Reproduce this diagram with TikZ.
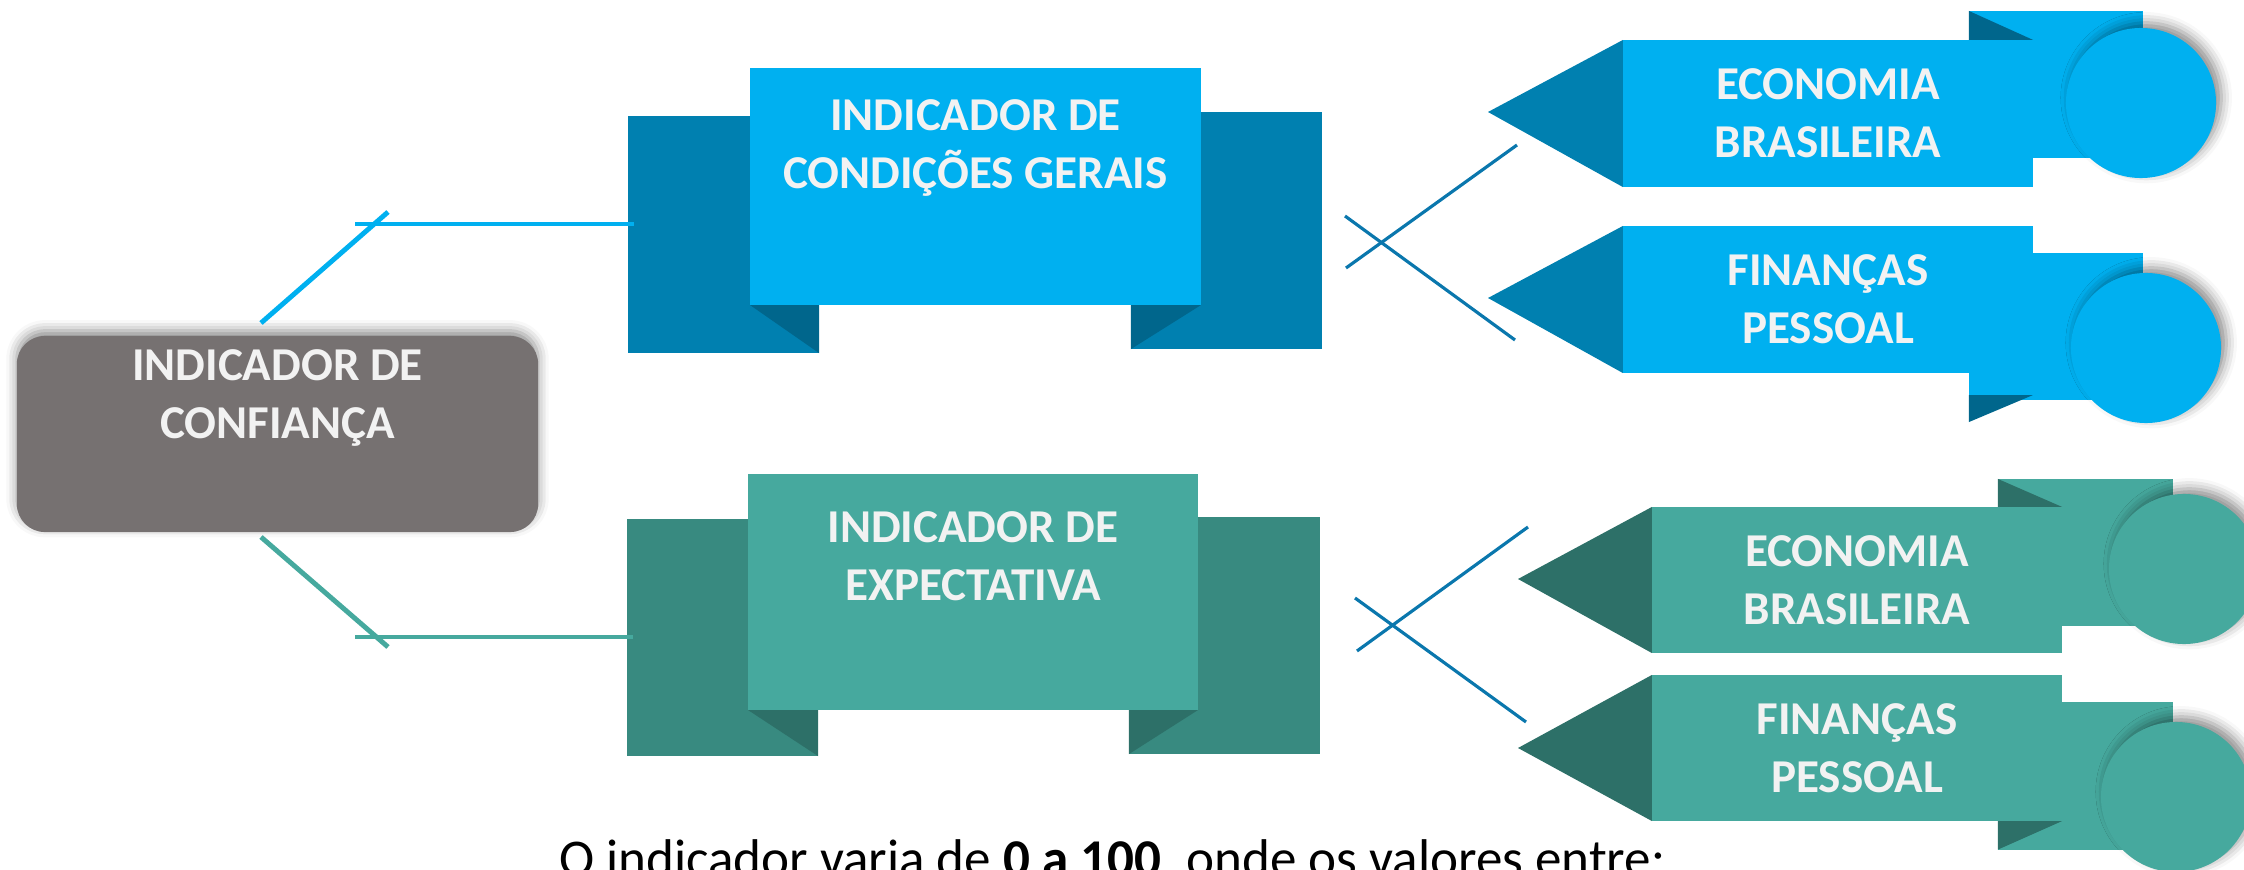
\documentclass[tikz,border=0pt]{standalone}
\usepackage{fontspec}
\setmainfont{Carlito}
\usetikzlibrary{calc,positioning,shadows.blur}

\definecolor{gry}{HTML}{767171}
\definecolor{bluA}{HTML}{00B0F0}
\definecolor{bluB}{HTML}{0080B0}
\definecolor{bluC}{HTML}{00668C}
\definecolor{tealA}{HTML}{46A99E}
\definecolor{tealB}{HTML}{388A80}
\definecolor{tealC}{HTML}{2D7068}
\definecolor{crossblu}{HTML}{0A77AD}
\definecolor{txt}{HTML}{F2F2F2}

\begin{document}
\begin{tikzpicture}[x=0.01cm, y=-0.01cm, every node/.style={inner sep=0pt, outer sep=0pt}]
    \tikzset{plate/.style={rectangle, fill=#1},
      lbl/.style={text=txt, align=center, font=\bfseries\fontsize{13.4}{16.6}\selectfont},
      disc/.style={circle, fill=#1, minimum size=1.5cm,
        blur shadow={shadow xshift=1.5pt, shadow yshift=1.5pt, shadow blur radius=3pt, shadow opacity=45}},
      lnblu/.style={bluA, line width=1.4pt},
      lnteal/.style={tealA, line width=1.4pt},
      xline/.style={crossblu, line width=0.9pt}}
    \useasboundingbox (0,0) rectangle (2244,870);

    \node[plate=gry, rounded corners=0.28cm, minimum width=5.21cm, minimum height=1.96cm,
      blur shadow={shadow xshift=0pt, shadow yshift=1.5pt, shadow blur radius=3pt, shadow opacity=45}] (conf) at (277.5,434) {};
    \node[lbl] at ($(conf.north)+(0,62)$) {INDICADOR DE\\CONFIANÇA};

    \node[plate=bluB, minimum width=1.91cm, minimum height=2.37cm] (cgL) at (723.5,234.5) {};
    \node[plate=bluB, minimum width=1.91cm, minimum height=2.37cm] (cgR) at (1226.5,230.5) {};
    \fill[bluC] (cgL.south east) -- ++(0,-48) -- ++(-69,0) -- cycle;
    \fill[bluC] (cgR.south west) -- ++(0,-44) -- ++(70,0) -- cycle;
    \node[plate=bluA, minimum width=4.51cm, minimum height=2.37cm] (cg) at (975.5,186.5) {};
    \node[lbl] at ($(cg.north)+(0,80)$) {INDICADOR DE\\CONDIÇÕES GERAIS};

    \node[plate=tealB, minimum width=1.91cm, minimum height=2.37cm] (expL) at (722.5,637.5) {};
    \node[plate=tealB, minimum width=1.91cm, minimum height=2.37cm] (expR) at (1224.5,635.5) {};
    \fill[tealC] (expL.south east) -- ++(0,-46) -- ++(-70,0) -- cycle;
    \fill[tealC] (expR.south west) -- ++(0,-44) -- ++(69,0) -- cycle;
    \node[plate=tealA, minimum width=4.50cm, minimum height=2.36cm] (exp) at (973,592) {};
    \node[lbl] at ($(exp.north)+(0,82)$) {INDICADOR DE\\EXPECTATIVA};

    \coordinate (u1) at (261,323);
    \coordinate (u2) at (388,212);
    \coordinate (u3) at (355,224);
    \coordinate (d1) at (261,537);
    \coordinate (d2) at (388,647);
    \coordinate (d3) at (355,637);
    \draw[lnblu] (u1) -- (u2);
    \draw[lnblu] (u3) -- ($(u3 -| cgL.west)+(6,0)$);
    \draw[lnteal] (d1) -- (d2);
    \draw[lnteal] (d3) -- ($(d3 -| expL.west)+(6,0)$);

    \node[plate=bluA, minimum width=1.74cm, minimum height=1.47cm] (ecoAb) at (2056,84.5) {};
    \node[plate=bluA, minimum width=1.74cm, minimum height=1.47cm] (finAb) at (2056,326.5) {};
    \node[disc=bluA] (ecoAc) at (2141,103) {};
    \node[disc=bluA] (finAc) at (2146,348) {};
    \node[plate=bluA, minimum width=4.10cm, minimum height=1.47cm, lbl] (ecoA) at (1828,113.5) {ECONOMIA\\BRASILEIRA};
    \node[plate=bluA, minimum width=4.10cm, minimum height=1.47cm, lbl] (finA) at (1828,299.5) {FINANÇAS\\PESSOAL};
    \fill[bluC] (ecoAb.north west) -- (ecoA.north east) -- (ecoA.north -| ecoAb.west) -- cycle;
    \fill[bluC] ($(finAb.south west)+(0,-5)$) -- ++(64,0) -- ($(finAb.south west)+(0,22)$) -- cycle;
    \fill[bluB] (ecoA.north west) -- (ecoA.south west) -- (1488,112) -- cycle;
    \fill[bluB] (finA.north west) -- (finA.south west) -- (1488,298) -- cycle;

    \node[plate=tealA, minimum width=1.75cm, minimum height=1.47cm] (ecoBb) at (2085.5,552.5) {};
    \node[plate=tealA, minimum width=1.75cm, minimum height=1.47cm] (finBb) at (2085.5,776) {};
    \node[disc=tealA] (ecoBc) at (2184,569) {};
    \node[disc=tealA] (finBc) at (2176,797) {};
    \node[plate=tealA, minimum width=4.10cm, minimum height=1.46cm, lbl] (ecoB) at (1857,580) {ECONOMIA\\BRASILEIRA};
    \node[plate=tealA, minimum width=4.10cm, minimum height=1.46cm, lbl] (finB) at (1857,748) {FINANÇAS\\PESSOAL};
    \fill[tealC] (ecoBb.north west) -- (ecoB.north east) -- (ecoB.north -| ecoBb.west) -- cycle;
    \fill[tealC] (finB.south -| finBb.west) -- (finB.south east) -- (finBb.south west) -- cycle;
    \fill[tealC] (ecoB.north west) -- (ecoB.south west) -- (1518,579) -- cycle;
    \fill[tealC] (finB.north west) -- (finB.south west) -- (1518,748) -- cycle;

    \coordinate (a1) at (1345,216);
    \coordinate (a2) at (1515,340);
    \coordinate (a3) at (1346,268);
    \coordinate (a4) at (1517,145);
    \coordinate (b1) at (1355,598);
    \coordinate (b2) at (1526,722);
    \coordinate (b3) at (1357,651);
    \coordinate (b4) at (1528,527);
    \draw[xline] (a1) -- (a2);
    \draw[xline] (a3) -- (a4);
    \draw[xline] (b1) -- (b2);
    \draw[xline] (b3) -- (b4);

    \node[anchor=base west, font=\fontsize{15.1}{18}\selectfont] (note) at (559,876)
      {O indicador varia de \textbf{0 a 100}, onde os valores entre:};
\end{tikzpicture}
\end{document}
